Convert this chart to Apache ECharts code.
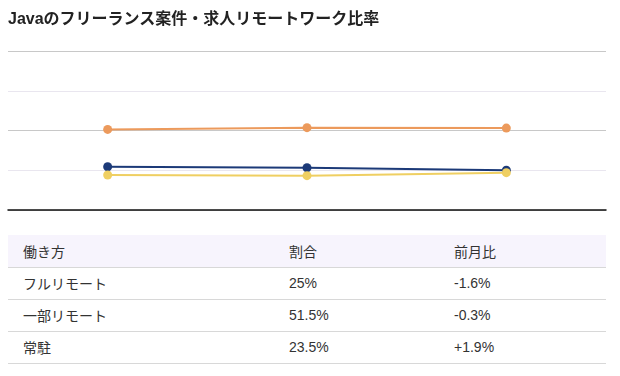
<!DOCTYPE html>
<html>
<head>
<meta charset="utf-8">
<script src="https://cdn.jsdelivr.net/npm/echarts@6/dist/echarts.min.js"></script>
<style>
    body { margin: 0; background: #fff; font-family: "Liberation Sans", "Noto Sans CJK JP", sans-serif; color: #333; }
    #wrap { position: relative; width: 620px; height: 376px; overflow: hidden; }
    #title { position: absolute; left: 8px; top: 8px; font-size: 16px; font-weight: bold; color: #222; line-height: 22px; white-space: nowrap; }
    #chart { position: absolute; left: 0; top: 0; width: 620px; height: 225px; }
    #tbl { position: absolute; left: 8px; top: 235px; width: 598px; border-collapse: collapse; font-size: 14px; }
    #tbl th, #tbl td { text-align: left; font-weight: normal; padding: 0 0 1px 15px; height: 30px; border-bottom: 1px solid #d8d8d8; }
    #tbl th { background: #f7f4fd; height: 31px; }
</style>
</head>
<body>
<div id="wrap">
    <div id="chart"></div>
    <div id="title">Javaのフリーランス案件・求人リモートワーク比率</div>
    <table id="tbl">
        <thead><tr id="head"></tr></thead>
        <tbody id="rows"></tbody>
    </table>
</div>
<script>
    // months (not shown on the chart)
    var months = ["前々月", "前月", "今月"];
    var seriesNames = ["フルリモート", "一部リモート", "常駐"];
    var fullRemote = [27.2, 26.6, 25];
    var partRemote = [50.7, 51.8, 51.5];
    var onSite = [22.0, 21.6, 23.5];
    var colors = ["#1c3a78", "#ec9a5c", "#efcf62"];

    // table
    var headers = ["働き方", "割合", "前月比"];
    var shares = ["25%", "51.5%", "23.5%"];
    var diffs = ["-1.6%", "-0.3%", "+1.9%"];

    var colWidths = [266, 165, 167];
    var headHtml = "";
    headers.forEach(function(h, i) {
        headHtml += '<th style="width:' + (colWidths[i] - 15) + 'px">' + h + "</th>";
    });
    document.getElementById("head").innerHTML = headHtml;
    var rowHtml = "";
    seriesNames.forEach(function(n, i) {
        rowHtml += "<tr><td>" + n + "</td><td>" + shares[i] + "</td><td>" + diffs[i] + "</td></tr>";
    });
    document.getElementById("rows").innerHTML = rowHtml;

    var myChart = echarts.init(document.getElementById("chart"));
    var allData = [fullRemote, partRemote, onSite];
    var option = {
        animation: false,
        grid: { left: 8, right: 14, top: 51, bottom: 15 },
        xAxis: {
            type: "category",
            data: months,
            boundaryGap: true,
            axisLine: { lineStyle: { color: "#111", width: 1.5 } },
            axisTick: { show: false },
            axisLabel: { show: false }
        },
        yAxis: {
            type: "value",
            min: 0,
            max: 100,
            interval: 25,
            axisLabel: { show: false },
            axisLine: { show: false },
            axisTick: { show: false },
            splitLine: { lineStyle: { color: ["#c8c8c8", "#e9e6ef"], width: 1 } }
        },
        series: allData.map(function(d, i) {
            return {
                name: seriesNames[i],
                type: "line",
                data: d,
                symbol: "circle",
                symbolSize: 9,
                lineStyle: { color: colors[i], width: 2 },
                itemStyle: { color: colors[i] }
            };
        })
    };
    myChart.setOption(option);
</script>
</body>
</html>
